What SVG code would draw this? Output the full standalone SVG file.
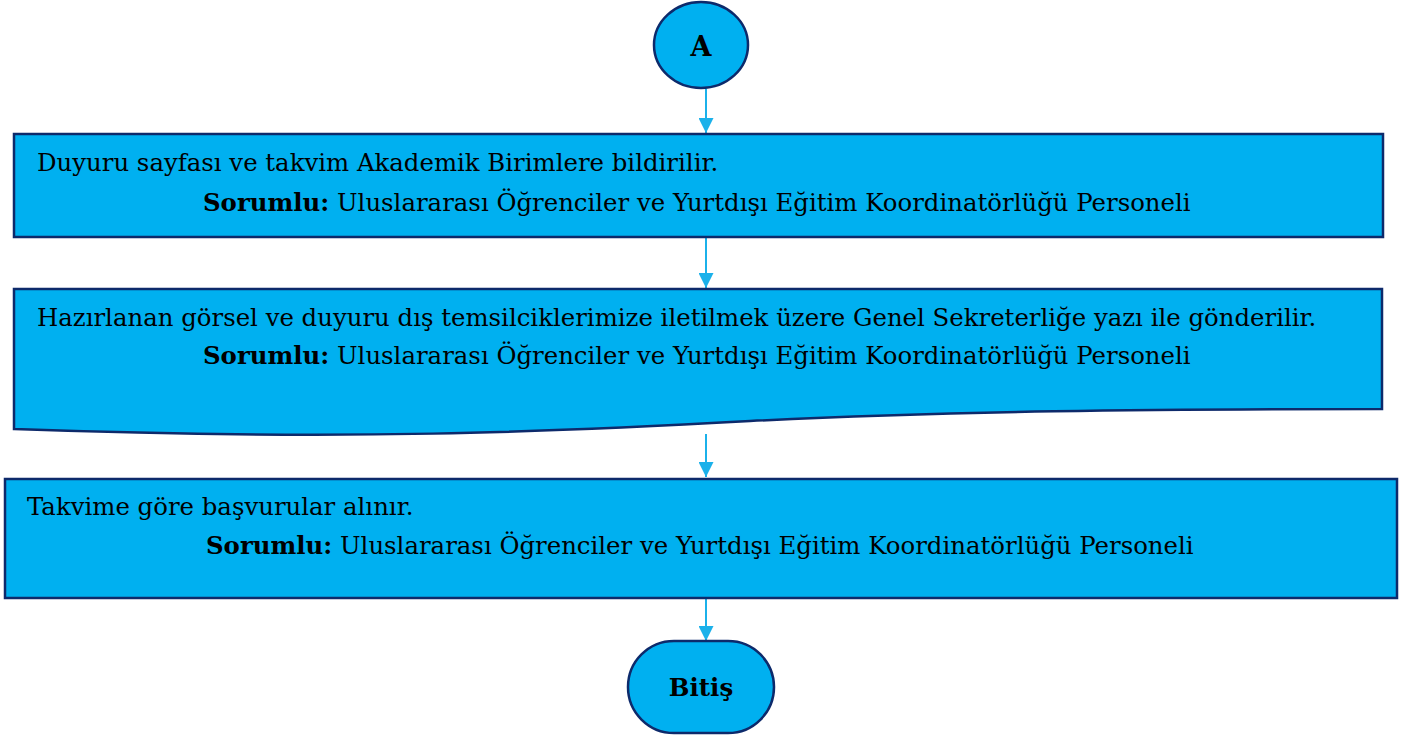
<svg xmlns="http://www.w3.org/2000/svg" width="1412" height="736" viewBox="0 0 1412 736">
<defs>
<style>
.shape{fill:#00B0F0;stroke:#0D2A6B;stroke-width:2.5}
.t{font-family:"DejaVu Serif","Liberation Serif",serif;font-size:24.4px;fill:#000}
.b{font-weight:bold}
.conn{stroke:#1BB1EA;stroke-width:2;fill:none}
</style>
<marker id="ah2" viewBox="0 0 15 15" refX="15" refY="7.5" markerWidth="15" markerHeight="15" markerUnits="userSpaceOnUse" orient="auto">
<path d="M0,0 L15,7.5 L0,15 Z" fill="#1BB1EA"/>
</marker>
</defs>
<g id="connectors">
<line class="conn" x1="706" y1="89" x2="706" y2="133" marker-end="url(#ah2)"/>
<line class="conn" x1="706" y1="238" x2="706" y2="288" marker-end="url(#ah2)"/>
<line class="conn" x1="706" y1="434" x2="706" y2="477" marker-end="url(#ah2)"/>
<line class="conn" x1="706" y1="599" x2="706" y2="641" marker-end="url(#ah2)"/>
</g>
<g id="nodeA">
<ellipse class="shape" cx="701" cy="45" rx="47" ry="43"/>
<text class="t b" x="701" y="56" text-anchor="middle" style="font-size:27px">A</text>
</g>
<g id="node1">
<rect class="shape" x="14" y="134" width="1369" height="103"/>
<text class="t" x="37" y="171">Duyuru sayfası ve takvim Akademik Birimlere bildirilir.</text>
<text class="t" x="203" y="211"><tspan class="b">Sorumlu:</tspan> Uluslararası Öğrenciler ve Yurtdışı Eğitim Koordinatörlüğü Personeli</text>
</g>
<g id="node2">
<path class="shape" d="M14,289 L1382,289 L1382,409 C1150,409 950,411 750,421 C550,432 350,441 14,429 Z"/>
<text class="t" x="37" y="326">Hazırlanan görsel ve duyuru dış temsilciklerimize iletilmek üzere Genel Sekreterliğe yazı ile gönderilir.</text>
<text class="t" x="203" y="364"><tspan class="b">Sorumlu:</tspan> Uluslararası Öğrenciler ve Yurtdışı Eğitim Koordinatörlüğü Personeli</text>
</g>
<g id="node3">
<rect class="shape" x="5" y="479" width="1392" height="119"/>
<text class="t" x="27" y="515">Takvime göre başvurular alınır.</text>
<text class="t" x="206" y="554"><tspan class="b">Sorumlu:</tspan> Uluslararası Öğrenciler ve Yurtdışı Eğitim Koordinatörlüğü Personeli</text>
</g>
<g id="nodeEnd">
<rect class="shape" x="628" y="641" width="146" height="92" rx="46" ry="46"/>
<text class="t b" x="701" y="696" text-anchor="middle" style="font-size:24.5px">Bitiş</text>
</g>
</svg>
